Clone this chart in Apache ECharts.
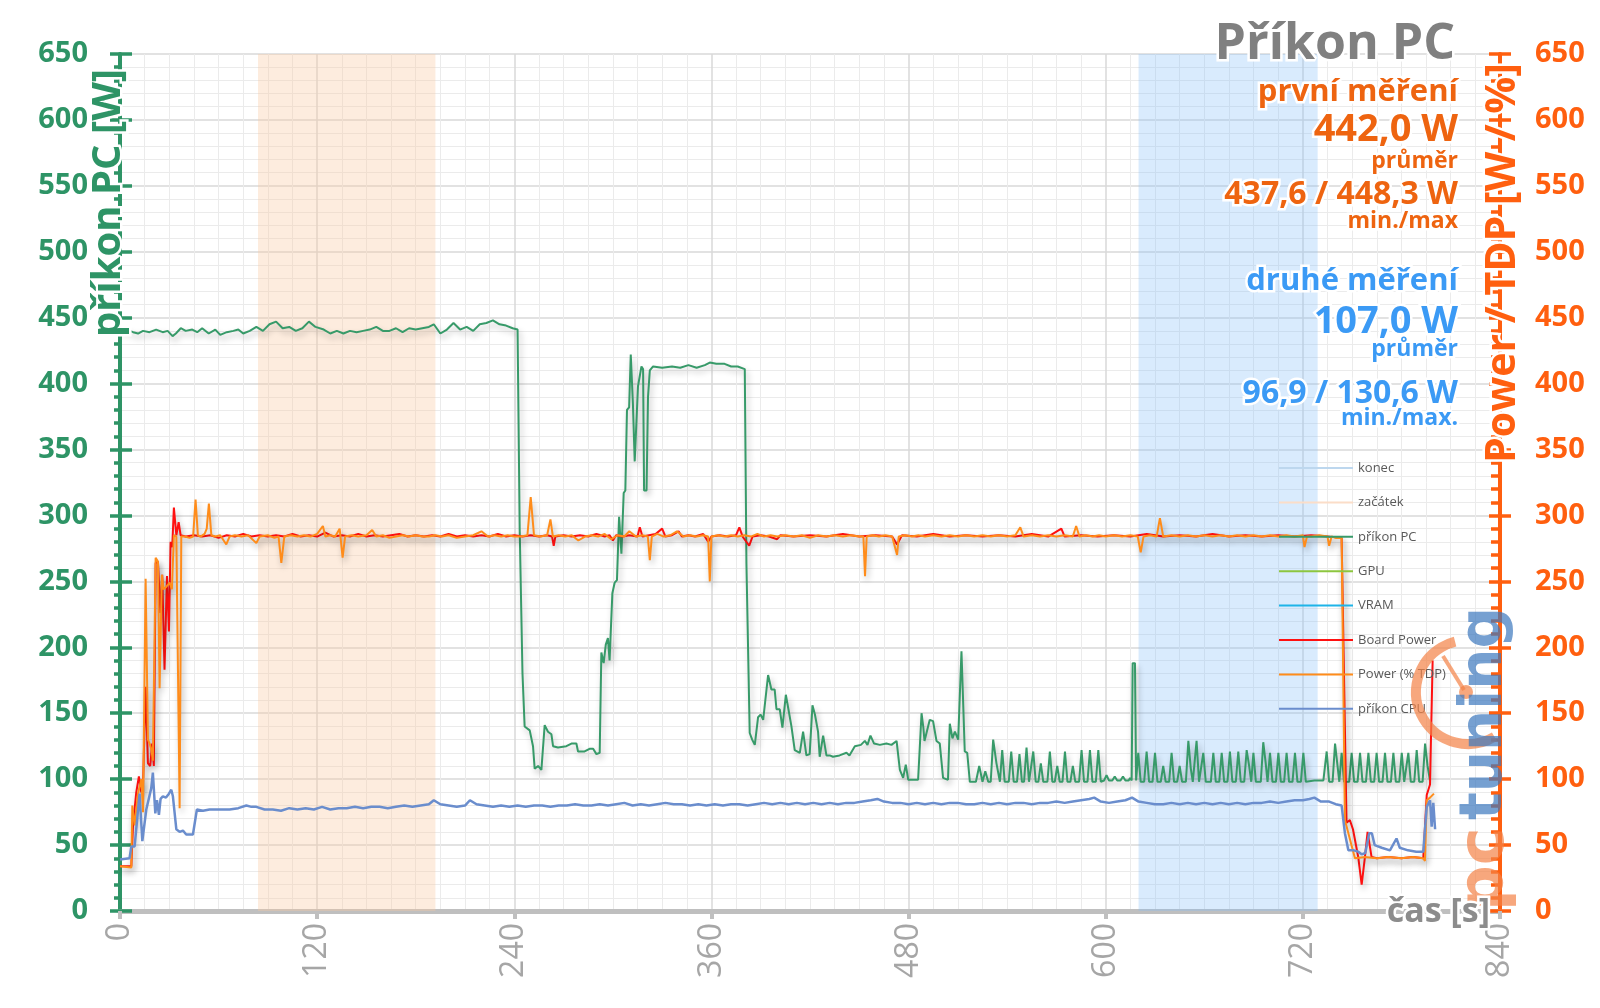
<!DOCTYPE html>
<html><head><meta charset="utf-8">
<script src="https://cdn.jsdelivr.net/npm/echarts/dist/echarts.min.js"></script>
<style>html,body{margin:0;padding:0;background:#fff}#c{width:1600px;height:1008px}</style>
</head><body><div id="c"></div>
<script>
// ---------------- data ----------------
const xTickStep = 120, xMax = 840, yTickStep = 50, yMax = 650;
const zacatekBand = [84, 192];   // "začátek" window (s)
const konecBand = [620, 729];    // "konec" window (s)
const legendNames = ['konec', 'začátek', 'příkon PC', 'GPU', 'VRAM', 'Board Power', 'Power (% TDP)', 'příkon CPU'];
const titleText = 'Příkon PC';
const leftAxisTitle = 'příkon PC [W]';
const rightAxisTitle = 'Power / TDP [W / %]';
const xAxisTitle = 'čas [s]';
const statsFirst = ['první měření', '442,0 W', 'průměr', '437,6 / 448,3 W', 'min./max'];
const statsSecond = ['druhé měření', '107,0 W', 'průměr', '96,9 / 130,6 W', 'min./max.'];

// [time s, W]
const pcPower = [[0,440],[4,441],[8,439],[11,438],[14,440],[18,439],[22,441],[26,439],[29,440],[32,436],[34,438],[37,442],[40,440],[44,441],[47,439],[50,442],[54,438],[58,441],[61,437],[65,439],[69,440],[72,441],[75,438],[79,440],[83,443],[87,440],[91,445],[95,447],[99,442],[103,443],[107,440],[111,442],[115,447],[119,443],[124,441],[128,438],[132,440],[136,438],[140,440],[144,439],[148,440],[152,441],[156,443],[160,440],[164,440],[168,442],[172,439],[176,442],[180,441],[184,442],[188,443],[191,445],[195,438],[199,441],[203,446],[207,441],[211,443],[215,440],[219,445],[223,446],[227,448],[231,445],[235,444],[239,442],[242,441],
[243.3,289],[245,180],[246.3,140],[249.4,137],[251.4,125],[252.4,108],[254.5,110],[256.5,107],[258.5,141],[260.5,136],[262.6,134],[263.6,125],[266.6,124],[271.7,125],[274.8,127],[277.8,127],[278.8,121],[282.8,121],[285.8,123],[288,123],[290,119],[292,120],
[293,196],[294.4,188],[295.7,202],[297,207],[298,190],[299.7,241],[301.1,249],[302.5,251],[303.8,299],[305.2,271],[306.6,317],[307.6,319],[308.6,380],[309.9,382],[310.9,422],[312.2,385],[313.3,341],[314.3,341],[315.3,398],[317.4,413],[318.4,411],[319,319],[320.5,319],[321.4,390],[322.5,410],[324.5,413],[330,412],[336,413],[341,412],[346,414],[351,412],[356,414],[359,416],[363,415],[368,415],[372,413],[376,413],[380.3,411],
[381.3,264],[383.3,135],[384.8,130],[386.4,126],[388.4,147],[390,149],[391.5,145],[394.5,179],[396.5,168],[398.5,168],[399.6,153],[401.6,153],[403.2,139],[405.3,164],[407.3,150],[408.7,140],[410.7,122],[413.8,120],[415.8,136],[417.8,118],[419.8,119],[421.5,156],[423,149],[424.9,136],[425.9,117],[428,133],[430,118],[432,118],[434,117],[438,118],[442.2,120],[444,118],[447.3,125],[451,126],[453.4,129],[455,126],[456.8,133],[459,127],[462.5,126],[466.5,127],[469.6,126],[472.7,129],[474.7,107],[476.7,101],[478.3,111],[479.8,99.5],[485.8,99.5],[487.9,150],[489,139],[489.7,129],[492.9,145],[494.9,144],[497,129],[499,127],[501,101],[504,99.5],[505.1,142],[506.7,131],[508.2,136],[510.2,130],[512.2,197],[514.2,121],[515.7,120],[517.3,98],[521,98],[523,110],[525,98],[526.7,106],[528.5,98],[530,98],[531.5,130],[533.5,112],[535.6,98],
[537,122],[538.5,98],[541,98],[542.5,121],[544,98],[546,98],[547.5,119],[549,98],[550.3,98],[551.8,124],[553.3,98],[554.4,98],[555.9,121],[557.4,98],[559,98],[560.5,112],[562,98],[564.5,98],[566,121],[567.5,98],[569,98],[570.5,110],[572,98],[573.7,98],[575.2,121],[576.7,98],[578.5,98],[580,110],[581.5,98],[583.8,98],[585.3,122],[586.8,98],[588.9,98],[590.4,122],[591.9,98],[594,98],[595.5,122],[597,98],[599,99],[600.5,103],[602,99],[604,99],[605.5,102],[607,99],[609,99],[610.5,102],[612,99],[614,99],[614.8,101],[615.8,99],[616.4,188],[617.8,188],[618.5,99],[619.8,120],[621.3,98],[623.4,98],[624.9,121],[626.4,98],[628.5,98],[630,120],[631.5,98],[633.5,98],[635,110],[636.5,98],[638.6,98],[640.1,120],[641.6,98],[643.5,98],[645,110],[646.5,98],[648.8,98],[650.3,129],[651.8,108],[653,98],[655.3,129],[656.8,98],[658,98],[659.4,120],[660.9,98],[664,98],[665.5,120],[667,98],[669.1,98],[670.6,120],[672.1,98],[674.1,98],[675.6,121],[677.1,98],[679.2,98],[680.7,121],[682.2,98],[684.3,98],[685.8,122],[687.3,110],[688.6,98],[689.9,120],[691.4,98],[694.4,98],[695.9,128],[697.4,112],[698.5,98],[700,120],[701.5,98],[703.6,98],[705.1,120],[706.6,98],[708.6,98],[710.1,120],[711.6,98],[713.7,98],[715.2,120],[716.7,98],[718.8,98],[720.3,120],[721.8,98],[727,99],[732.5,99],[734.5,121],[736,98],[738.1,98],[739.6,127],[741.1,110],[742.2,98],[743.6,120],[745.1,98],[748.2,98],[749.7,120],[751.2,98],[753.3,98],[754.8,120],[756.3,98],[758.4,98],[759.9,120],[761.4,98],[763.4,98],[764.9,120],[766.4,98],[768.5,98],[770,120],[771.5,98],[773.6,98],[775.1,120],[776.6,98],[778.7,98],[780.2,120],[781.7,98],[782.7,98],[784.2,120],[785.7,98],[787.8,98],[789.3,122],[790.8,98],[792.9,98],[794.4,127],[795.9,110],[797.4,99]];

const boardPower = [[0,34],[6.9,34],[7.9,65],[9.9,90],[11.5,102],[13,90],[14,95],[15.6,170],[17,112],[18.4,110],[19.6,127],[20.6,110],[21.7,264],[23.1,265],[24.6,226],[25.7,255],[27.1,183],[28.6,254],[29.8,212],[30.8,280],[31.8,276],[32.8,306],[34.3,285],[35.7,295],[36.9,285],[40,284],[45,285],[50,284],[55,285],[60,283],[65,285],[70,284],[75,286],[80,284],[85,285],[90,284],[95,285],[100,284],[105,286],[110,284],[115,285],[120,284],[125,287],[130,284],[135,285],[140,284],[145,286],[150,284],[155,285],[160,284],[165,285],[170,286],[175,284],[180,285],[185,284],[190,285],[195,284],[200,286],[205,284],[210,285],[215,284],[220,285],[225,284],[230,286],[235,284],[240,285],[245,284],[250,285],[255,284],[260,285],[263,284],[264,277],[265,284],[270,285],[275,284],[280,285],[285,284],[290,286],[295,284],[298,285],[300,281],[302,285],[306,284],[310,285],[315,284],[316.4,291],[318,284],[322,285],[326,286],[330,290],[332,284],[336,285],[340,288],[342,284],[346,285],[350,284],[355,286],[358,280],[360,284],[365,285],[370,284],[375,285],[377,291],[379,284],[383,277],[385,284],[390,285],[395,284],[400,282],[402,285],[410,284],[420,285],[430,284],[440,286],[450,284],[460,285],[470,284],[473,278],[476,285],[485,284],[495,286],[505,284],[515,285],[525,284],[535,285],[545,284],[555,286],[565,284],[573,290],[575,284],[585,285],[595,284],[605,285],[615,284],[625,286],[635,284],[645,285],[655,284],[665,286],[675,284],[685,285],[695,284],[705,285],[715,284],[725,285],[735,284],[743.6,283],[746.6,67],[748.6,69],[750.5,62],[753.7,41],[755.8,20],[757.8,41],[759.4,60],[761.8,41],[765,40],[772,41],[780,40],[787,41],[793.3,40],[795.4,88],[797.4,96],[799,190]];

const tdpPower = [[0,34],[6.9,33],[7.5,80],[8.9,65],[10.9,89],[13,100],[14,75],[15.6,252],[17,130],[18,127],[19,123],[20,114],[21.7,268],[23.1,265],[24.1,169],[25.5,255],[26.5,244],[28.2,246],[30.2,249],[31.6,244],[32.8,285],[34.3,284],[35.3,284],[36.3,78],[37.3,284],[39.3,284],[42.4,283],[44.5,284],[46,312],[47.4,285],[49,284],[51.5,286],[52.8,290],[54.1,309],[55.6,285],[58,284],[61,285],[64.7,278],[66.7,284],[70,285],[74,284],[78,285],[83,279],[85,284],[90,285],[94,283],[96.5,284],[98.2,264],[100,284],[104,285],[108,284],[112,285],[116,284],[120,286],[123.5,292],[125,284],[128,285],[131,284],[133.7,290],[135.5,268],[137,284],[141,285],[145,284],[150,285],[153.5,289],[156,284],[160,285],[164,283],[168,284],[172,285],[176,284],[180,285],[184,284],[188,284],[192,285],[196,284],[200,285],[205,283],[210,284],[215,285],[220,288],[224,284],[228,285],[232,284],[236,285],[240,284],[244,284],[248,285],[250,314],[252,285],[256,284],[260,285],[262,297],[263.5,284],[267,285],[271,284],[275,285],[279,281],[283,284],[287,285],[291,284],[295,286],[299,282],[303,285],[307,284],[310,288],[314,284],[318,285],[321.3,284],[322.5,266],[323.7,284],[327,286],[331,284],[335,285],[339,288],[343,284],[347,285],[351,284],[355,285],[358,284],[359,250],[360,284],[364,285],[368,284],[372,285],[376,284],[380,285],[384,284],[388,286],[392,284],[396,285],[400,284],[405,285],[410,284],[415,285],[420,283],[425,285],[430,284],[435,285],[440,284],[445,285],[450,284],[452.5,284],[453.5,254],[454.5,284],[458,285],[462,284],[466,285],[470,284],[473,270],[474,284],[478,285],[482,284],[486,285],[490,284],[495,285],[500,284],[505,285],[510,284],[515,285],[520,284],[525,285],[530,284],[535,285],[540,284],[545,285],[548,291],[550,284],[555,285],[560,284],[565,285],[570,284],[575,285],[580,284],[582,292],[584,284],[588,285],[592,284],[596,285],[600,284],[605,285],[610,284],[615,285],[619.5,284],[621.3,272],[623,284],[627,285],[631,284],[633,298],[635,284],[640,285],[645,284],[650,285],[655,284],[660,285],[665,284],[670,285],[675,284],[680,285],[685,284],[690,285],[695,284],[700,285],[705,284],[710,285],[715,284],[720,285],[721,276],[722.5,284],[725,284],[730,285],[735,284],[736,277],[737.5,284],[740,283],[743.6,283],[745.6,69],[747.7,59],[751.7,40],[757.8,41],[765,40],[772,41],[780,40],[787,41],[793.3,40],[794.3,38],[795.4,84],[797.4,86],[799.8,89]];

const cpuPower = [[0,39],[5.8,40],[6.9,49],[8.9,49],[11.9,89],[13.6,53],[16,77],[19,93],[20,105],[21.5,74],[22.5,84],[23.7,73],[24.7,85],[26.1,87],[28,86],[29.8,89],[31.2,92],[32.2,87],[34.3,62],[36.3,60],[38.3,61],[40.3,58],[44.4,58],[46.8,77],[50.5,76],[54.5,77],[60.6,77],[66.7,77],[72,78],[76.9,80],[80,79],[83,79],[88,77],[93,77],[98,76],[103,78],[108,77],[113,78],[118,77],[123,79],[128,77],[133,78],[138,78],[143,79],[148,78],[153,79],[158,79],[163,78],[168,79],[173,80],[178,79],[183,80],[188,81],[191,84],[195,81],[200,80],[205,79],[210,80],[213,84],[217,81],[222,80],[227,79],[232,80],[237,79],[242,80],[247,79],[252,80],[257,80],[262,79],[267,80],[272,80],[277,81],[282,80],[287,80],[292,81],[297,80],[302,81],[307,82],[312,80],[317,81],[322,80],[327,81],[332,82],[337,81],[342,81],[347,80],[352,81],[357,80],[362,81],[367,80],[372,81],[377,81],[382,80],[387,81],[392,82],[397,81],[402,82],[407,81],[412,82],[417,81],[422,82],[427,81],[432,82],[437,81],[442,82],[447,82],[452,83],[457,84],[461,85],[465,83],[470,82],[475,82],[480,81],[485,82],[490,81],[495,82],[500,81],[505,82],[510,82],[515,81],[520,81],[525,82],[530,81],[535,82],[540,81],[545,82],[550,82],[555,81],[560,82],[565,82],[570,83],[575,82],[580,83],[585,84],[590,85],[593,86],[597,83],[602,82],[607,83],[612,84],[616,86],[620,83],[625,82],[630,81],[635,81],[640,82],[645,81],[650,82],[655,81],[660,82],[665,81],[670,82],[675,81],[680,82],[685,81],[690,82],[695,82],[700,83],[705,82],[710,83],[715,84],[720,84],[724,85],[727,86],[731,83],[736,83],[740,81],[743.6,80],[745.6,59],[747.7,46],[751,46],[753.7,45],[755.8,43],[758,44],[760.4,59],[762,59],[763.7,50],[768,48],[773,46],[777,55],[779,48],[784,46],[789,45],[793.3,45],[795.4,79],[797.4,84],[798.4,64],[799.4,82],[800.5,62]];
const gpuPower = [];
const vramPower = [];

// ---------------- styling ----------------
const FONT = "'Open Sans', 'Noto Sans', sans-serif";
const GREEN = '#2E9466', ORANGE = '#FF5F0F', TXT_OR = '#EE6410', TXT_BL = '#3B9AF5';
const chart = echarts.init(document.getElementById('c'));
const shadow = {shadowColor: 'rgba(0,0,0,0.28)', shadowBlur: 6, shadowOffsetX: 2, shadowOffsetY: 4};

function yAxisBase(pos) {
  return {type: 'value', position: pos, min: 0, max: yMax, interval: yTickStep,
    axisLine: {show: false, onZero: false}, axisLabel: {show: false}, splitLine: {show: false},
    axisTick: {show: false}, minorTick: {show: false}};
}
const yLeft = Object.assign(yAxisBase('left'), {
  axisLine: {show: true, onZero: false, lineStyle: {color: GREEN, width: 4}},
  axisTick: {show: true, length: 10, lineStyle: {color: GREEN, width: 3.5}},
  minorTick: {show: true, splitNumber: 5, length: 6, lineStyle: {color: GREEN, width: 3.5}},
  splitLine: {show: true, lineStyle: {color: '#D9D9D9', width: 1.5}},
  minorSplitLine: {show: true, lineStyle: {color: '#EBEBEB', width: 1}},
  axisLabel: {show: true, color: GREEN, fontSize: 29, fontWeight: 'bold', margin: 32, fontFamily: FONT}
});
const yRight = Object.assign(yAxisBase('right'), {
  axisLine: {show: true, onZero: false, lineStyle: {color: ORANGE, width: 4}},
  axisTick: {show: true, inside: true, length: 11, lineStyle: {color: ORANGE, width: 3.5}},
  minorTick: {show: true, splitNumber: 5, length: 9, lineStyle: {color: ORANGE, width: 3.5}},
  axisLabel: {show: true, color: ORANGE, fontSize: 29, fontWeight: 'bold', margin: 35, fontFamily: FONT}
});
const yLeftInner = Object.assign(yAxisBase('left'), {
  axisTick: {show: true, inside: true, length: 12, lineStyle: {color: GREEN, width: 3.5}}
});
const yRightOuter = Object.assign(yAxisBase('right'), {
  axisTick: {show: true, inside: false, length: 11, lineStyle: {color: ORANGE, width: 3.5}}
});

function lineSeries(name, data, color, width, yIdx, extra) {
  return {name, type: 'line', data, yAxisIndex: yIdx, symbol: 'none', showSymbol: false,
    color, lineStyle: Object.assign({color, width}, extra || {}), z: 3, animation: false};
}

// text block at top right
const statLayout = [
  {dy: 92, size: 31}, {dy: 130, size: 38}, {dy: 161, size: 23}, {dy: 195, size: 32}, {dy: 221, size: 23}
];
const statLayout2 = [
  {dy: 281, size: 31}, {dy: 322, size: 38}, {dy: 349, size: 23}, {dy: 394, size: 32}, {dy: 418, size: 23}
];
function glowText(text, x, y, size, color, align, rot) {
  return {type: 'text', x, y, rotation: rot || 0, z: 100,
    style: {text, x: 0, y: 0, fill: color, font: 'bold ' + size + 'px ' + FONT,
      textAlign: align, textVerticalAlign: 'middle', align: align, verticalAlign: 'middle',
      stroke: '#fff', lineWidth: 5, strokeFirst: true}};
}
const graphics = [];
graphics.push(glowText(titleText, 1455, 45, 50, '#808080', 'right'));
statsFirst.forEach((t, i) => graphics.push(glowText(t, 1458, statLayout[i].dy, statLayout[i].size, TXT_OR, 'right')));
statsSecond.forEach((t, i) => graphics.push(glowText(t, 1458, statLayout2[i].dy, statLayout2[i].size, TXT_BL, 'right')));
graphics.push(glowText(leftAxisTitle, 109, 203, 40, GREEN, 'center', Math.PI / 2));
graphics.push(glowText(rightAxisTitle, 1503, 263, 41, ORANGE, 'center', Math.PI / 2));
graphics.push(glowText(xAxisTitle, 1490, 912, 34, '#8C8C8C', 'right'));
// pctuning watermark
const WM_OR = 'rgba(244,130,70,0.7)', WM_BL = 'rgba(60,120,190,0.7)';
graphics.push({type: 'arc', z: 50, shape: {cx: 1468, cy: 692, r: 52, startAngle: Math.PI * 0.33, endAngle: Math.PI * 1.42, clockwise: true},
  style: {stroke: WM_OR, lineWidth: 10, fill: null}});
graphics.push({type: 'line', z: 50, shape: {x1: 1443, y1: 656, x2: 1464, y2: 690}, style: {stroke: WM_OR, lineWidth: 4}});
graphics.push({type: 'circle', z: 50, shape: {cx: 1466, cy: 692, r: 7}, style: {fill: WM_OR}});
graphics.push({type: 'text', x: 1486, y: 911, rotation: Math.PI / 2, z: 50,
  style: {text: 'pc', x: 0, y: 0, fill: WM_OR, font: 'bold 64px DejaVu Sans', textAlign: 'left', align: 'left', textVerticalAlign: 'middle', verticalAlign: 'middle'}});
graphics.push({type: 'text', x: 1486, y: 820, rotation: Math.PI / 2, z: 50,
  style: {text: 'tuning', x: 0, y: 0, fill: WM_BL, font: 'bold 58px DejaVu Sans', textAlign: 'left', align: 'left', textVerticalAlign: 'middle', verticalAlign: 'middle'}});

const option = {
  animation: false,
  backgroundColor: '#fff',
  textStyle: {fontFamily: FONT},
  grid: {left: 120, right: 100, top: 54, bottom: 97, containLabel: false},
  legend: {
    orient: 'vertical', left: 1273, top: 456, itemWidth: 74, itemHeight: 14, itemGap: 20.4,
    data: legendNames, textStyle: {fontSize: 13, color: '#595959', fontFamily: FONT, lineHeight: 14},
    itemStyle: {opacity: 0},
    selectedMode: false
  },
  xAxis: {
    type: 'value', min: 0, max: xMax, interval: xTickStep,
    axisLine: {show: true, onZero: false, lineStyle: {color: '#BFBFBF', width: 5}},
    axisTick: {show: true, length: 8, lineStyle: {color: '#BFBFBF', width: 4}},
    minorTick: {show: true, splitNumber: 8, length: 0, lineStyle: {width: 0}},
    splitLine: {show: true, lineStyle: {color: '#D9D9D9', width: 1.5}},
    minorSplitLine: {show: true, lineStyle: {color: '#EBEBEB', width: 1}},
    axisLabel: {rotate: 90, margin: 12, color: '#A6A6A6', fontSize: 32, fontFamily: FONT, showMaxLabel: true, showMinLabel: true}
  },
  yAxis: [yLeft, yRight, yLeftInner, yRightOuter],
  graphic: graphics,
  series: [
    Object.assign(lineSeries('konec', [], '#BDD7EE', 2, 0), {
      markArea: {silent: true, itemStyle: {color: 'rgba(130,190,250,0.30)'}, data: [[{xAxis: konecBand[0]}, {xAxis: konecBand[1]}]]}
    }),
    Object.assign(lineSeries('začátek', [], '#FBDDC8', 2, 0), {
      markArea: {silent: true, itemStyle: {color: 'rgba(250,200,160,0.35)'}, data: [[{xAxis: zacatekBand[0]}, {xAxis: zacatekBand[1]}]]}
    }),
    lineSeries('příkon PC', pcPower, '#379A69', 2, 0, shadow),
    lineSeries('GPU', gpuPower, '#8DC63F', 2, 1),
    lineSeries('VRAM', vramPower, '#1EB4E8', 2, 1),
    lineSeries('Board Power', boardPower, '#FF1010', 2, 1, shadow),
    lineSeries('Power (% TDP)', tdpPower, '#FF8C1A', 2, 1, shadow),
    lineSeries('příkon CPU', cpuPower, '#6A8DCD', 2.5, 0)
  ]
};
chart.setOption(option);
</script></body></html>
